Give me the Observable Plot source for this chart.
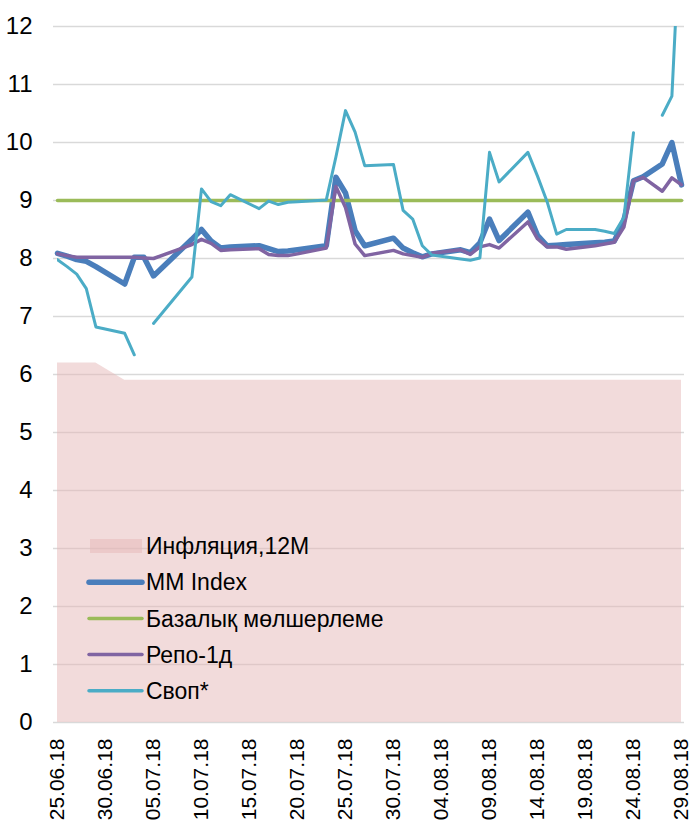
<!DOCTYPE html>
<html>
<head>
<meta charset="utf-8">
<script src="https://cdn.jsdelivr.net/npm/d3@7"></script>
<script src="https://cdn.jsdelivr.net/npm/@observablehq/plot@0.6"></script>
<style>
  body { margin: 0; background: #fff; color: #000; }
  #chart { width: 692px; height: 825px; }
</style>
</head>
<body>
<div id="chart"></div>
<script>
// Trading days (incl. working Saturday 25.08.18)
const dates = [
  "2018-06-25","2018-06-26","2018-06-27","2018-06-28","2018-06-29",
  "2018-07-02","2018-07-03","2018-07-04","2018-07-05",
  "2018-07-09","2018-07-10","2018-07-11","2018-07-12","2018-07-13",
  "2018-07-16","2018-07-17","2018-07-18","2018-07-19","2018-07-20",
  "2018-07-23","2018-07-24","2018-07-25","2018-07-26","2018-07-27",
  "2018-07-30","2018-07-31","2018-08-01","2018-08-02","2018-08-03",
  "2018-08-06","2018-08-07","2018-08-08","2018-08-09","2018-08-10",
  "2018-08-13","2018-08-14","2018-08-15","2018-08-16","2018-08-17",
  "2018-08-20","2018-08-21","2018-08-22","2018-08-23","2018-08-24",
  "2018-08-25","2018-08-27","2018-08-28","2018-08-29"
];
const inflation = [
  6.2, 6.2, 6.2, 6.2, 6.2,
  5.9, 5.9, 5.9, 5.9,
  5.9, 5.9, 5.9, 5.9, 5.9,
  5.9, 5.9, 5.9, 5.9, 5.9,
  5.9, 5.9, 5.9, 5.9, 5.9,
  5.9, 5.9, 5.9, 5.9, 5.9,
  5.9, 5.9, 5.9, 5.9, 5.9,
  5.9, 5.9, 5.9, 5.9, 5.9,
  5.9, 5.9, 5.9, 5.9, 5.9,
  5.9, 5.9, 5.9, 5.9
];
const mmIndex = [
  8.09, 8.04, 7.98, 7.95, 7.86,
  7.56, 8.02, 8.02, 7.70,
  8.33, 8.50, 8.30, 8.18, 8.20,
  8.22, 8.17, 8.12, 8.13, 8.15,
  8.22, 9.40, 9.13, 8.48, 8.22,
  8.35, 8.18, 8.10, 8.03, 8.08,
  8.15, 8.10, 8.27, 8.68, 8.31,
  8.80, 8.40, 8.22, 8.23, 8.24,
  8.27, 8.28, 8.30, 8.66, 9.34,
  9.41, 9.63, 10.00, 9.27
];
const baseRate = [
  9, 9, 9, 9, 9,
  9, 9, 9, 9,
  9, 9, 9, 9, 9,
  9, 9, 9, 9, 9,
  9, 9, 9, 9, 9,
  9, 9, 9, 9, 9,
  9, 9, 9, 9, 9,
  9, 9, 9, 9, 9,
  9, 9, 9, 9, 9,
  9, 9, 9, 9
];
const repo = [
  8.08, 8.05, 8.02, 8.02, 8.02,
  8.02, 8.02, 8.01, 8.00,
  8.24, 8.33, 8.26, 8.14, 8.15,
  8.17, 8.07, 8.05, 8.05, 8.08,
  8.18, 9.24, 8.88, 8.25, 8.05,
  8.14, 8.08, 8.05, 8.02, 8.09,
  8.15, 8.07, 8.20, 8.24, 8.18,
  8.63, 8.34, 8.20, 8.20, 8.16,
  8.22, 8.25, 8.28, 8.54, 9.34,
  9.40, 9.16, 9.39, 9.27
];
const swap = [
  7.98, 7.86, 7.73, 7.48, 6.82,
  6.71, 6.34, null, 6.88,
  7.68, 9.20, 8.98, 8.91, 9.10,
  8.86, 8.99, 8.93, 8.97, 8.98,
  9.01, 9.75, 10.55, 10.18, 9.60,
  9.62, 8.83, 8.68, 8.22, 8.06,
  7.99, 7.97, 8.01, 9.83, 9.32,
  9.83, 9.42, 8.98, 8.42, 8.50,
  8.50, 8.47, 8.43, 8.71, 10.17,
  null, 10.47, 10.80, 14.20
];
const seriesNames = ["Инфляция,12M", "MM Index", "Базалық мөлшерлеме", "Репо-1д", "Своп*"];
const seriesColors = ["#e6b8b7", "#4a7ebb", "#9bbb59", "#8064a2", "#4bacc6"];
const xTickDates = [
  "2018-06-25","2018-06-30","2018-07-05","2018-07-10","2018-07-15","2018-07-20","2018-07-25",
  "2018-07-30","2018-08-04","2018-08-09","2018-08-14","2018-08-19","2018-08-24","2018-08-29"
];
const yTicks = [0,1,2,3,4,5,6,7,8,9,10,11,12];

const rows = dates.map((d, i) => ({
  date: new Date(d),
  infl: inflation[i],
  mm: mmIndex[i],
  base: baseRate[i],
  repo: repo[i],
  swap: swap[i]
}));

const font = "'Liberation Sans', Arial, sans-serif";

const plot = Plot.plot({
  width: 692,
  height: 825,
  marginLeft: 57,
  marginRight: 11,
  marginTop: 26,
  marginBottom: 103,
  style: { fontFamily: font, background: "#fff", color: "#000" },
  x: { type: "utc", domain: [new Date(dates[0]), new Date(dates[dates.length - 1])] },
  y: { domain: [0, 12] },
  marks: [
    Plot.ruleY(yTicks, { stroke: "#d9d9d9", strokeWidth: 1.5, insetLeft: -4, insetRight: -3 }),
    Plot.areaY(rows, { x: "date", y: "infl", fill: seriesColors[0], fillOpacity: 0.5 }),
    Plot.lineY(rows, { x: "date", y: "mm", stroke: seriesColors[1], strokeWidth: 5.5, strokeLinejoin: "round" }),
    Plot.lineY(rows, { x: "date", y: "base", stroke: seriesColors[2], strokeWidth: 3.5 }),
    Plot.lineY(rows, { x: "date", y: "repo", stroke: seriesColors[3], strokeWidth: 3.5, strokeLinejoin: "round" }),
    Plot.lineY(rows, { x: "date", y: "swap", stroke: seriesColors[4], strokeWidth: 3, strokeLinejoin: "round", clip: true }),
    Plot.axisY({ ticks: yTicks, tickSize: 0, tickPadding: 25, fontSize: 24, label: null, fill: "#000" }),
    Plot.axisX({
      ticks: xTickDates.map(d => new Date(d)),
      tickFormat: d3.utcFormat("%d.%m.%y"),
      tickRotate: -90,
      tickSize: 0,
      tickPadding: 16,
      fontSize: 21,
      label: null,
      fill: "#000"
    })
  ]
});

// Legend inside the plot area
const svg = d3.select(plot);
const lg = svg.append("g")
  .attr("font-family", font)
  .attr("font-size", 23)
  .attr("fill", "#000")
  .attr("text-anchor", "start");
seriesNames.forEach((name, i) => {
  const cy = 546 + i * 36.2;
  if (i === 0) {
    lg.append("rect").attr("x", 90).attr("y", cy - 7).attr("width", 52).attr("height", 14)
      .attr("fill", seriesColors[0]).attr("fill-opacity", 0.5);
  } else {
    lg.append("line").attr("x1", 89).attr("x2", 142).attr("y1", cy).attr("y2", cy)
      .attr("stroke", seriesColors[i]).attr("stroke-width", i === 1 ? 5.5 : 3.5)
      .attr("stroke-linecap", "round");
  }
  lg.append("text").attr("x", 146).attr("y", cy).attr("dy", "0.36em")
    .attr("text-anchor", "start").text(name);
});

document.getElementById("chart").appendChild(plot);
</script>
</body>
</html>
